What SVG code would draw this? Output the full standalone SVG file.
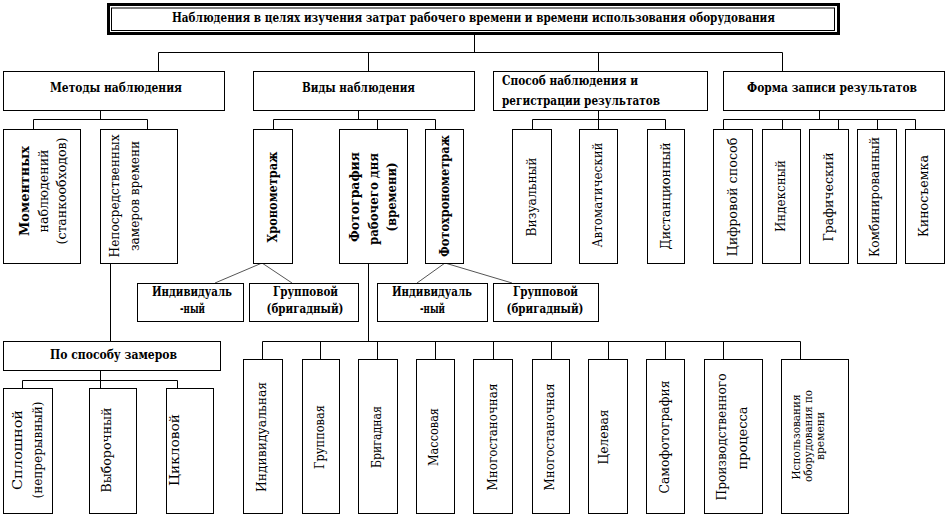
<svg xmlns="http://www.w3.org/2000/svg" width="947" height="517" viewBox="0 0 947 517">
<style>
.b{fill:#fff;stroke:#000;stroke-width:1}
.h{font-family:"DejaVu Serif",serif;font-weight:bold;font-size:12.5px;text-anchor:middle;fill:#000}
.v{font-family:"DejaVu Serif",serif;font-size:12px;text-anchor:middle;fill:#000}
.vb{font-weight:bold}
.c path{stroke:#000;stroke-width:1;fill:none}
.c .d{stroke:#555}
</style>
<rect width="947" height="517" fill="#fff"/>
<g class="c" id="connectors">
<path d="M474.5,33V52.5M158.5,52.5H782.5M158.5,52.5V71M368.5,52.5V71M598.5,52.5V71M782.5,52.5V71"/>
<path d="M100.5,110V119.5M33.5,119.5H147.5M33.5,119.5V129M147.5,119.5V129"/>
<path d="M358.5,110V119.5M273.5,119.5H435.5M273.5,119.5V129M377.5,119.5V129M435.5,119.5V129"/>
<path d="M598.5,110V119.5M532.5,119.5H665.5M532.5,119.5V129M598.5,119.5V129M665.5,119.5V129"/>
<path d="M819.5,110V119.5M723.5,119.5H915.5M723.5,119.5V129M782.5,119.5V129M838.5,119.5V129M877.5,119.5V129M915.5,119.5V129"/>
<path d="M110.5,263V341"/>
<path d="M100.5,370V380.5M22.5,380.5H177.5M22.5,380.5V388M100.5,380.5V388M177.5,380.5V388"/>
<path d="M368.5,263V341.5M262.5,341.5H800.5M262.5,341.5V359M320.5,341.5V359M377.5,341.5V359M435.5,341.5V359M493.5,341.5V359M551.5,341.5V359M608.5,341.5V359M665.5,341.5V359M723.5,341.5V359M800.5,341.5V359"/>
<path class="d" d="M262,263L215,283M262,263L292,283M445,263L417,283M445,263L512,283"/>
</g>
<g id="title">
<rect x="108.5" y="4.5" width="730" height="29" fill="#fff" stroke="#000" stroke-width="3"/>
<rect x="111.5" y="8" width="723" height="22.5" fill="none" stroke="#000" stroke-width="1"/>
<text class="h" x="473.5" y="21.5" textLength="603" lengthAdjust="spacingAndGlyphs">Наблюдения в целях изучения затрат рабочего времени и времени использования оборудования</text>
</g>
<g id="methods"><rect class="b" x="3.5" y="71.5" width="221" height="39"/><text class="h" x="116" y="91.5" textLength="132" lengthAdjust="spacingAndGlyphs">Методы наблюдения</text></g>
<g id="kinds"><rect class="b" x="253.5" y="71.5" width="221" height="39"/><text class="h" x="358.5" y="91.5" textLength="113" lengthAdjust="spacingAndGlyphs">Виды наблюдения</text></g>
<g id="way"><rect class="b" x="493.5" y="71.5" width="214" height="39"/><text class="h" x="502" y="84.5" style="text-anchor:start" textLength="136" lengthAdjust="spacingAndGlyphs">Способ наблюдения и</text><text class="h" x="502" y="104.5" style="text-anchor:start" textLength="158" lengthAdjust="spacingAndGlyphs">регистрации результатов</text></g>
<g id="form"><rect class="b" x="723.5" y="71.5" width="221" height="39"/><text class="h" x="832" y="91.5" textLength="170" lengthAdjust="spacingAndGlyphs">Форма записи результатов</text></g>
<g id="ind1"><rect class="b" x="137.5" y="283.5" width="106" height="38"/><text class="h" x="192" y="296" textLength="80" lengthAdjust="spacingAndGlyphs">Индивидуаль</text><text class="h" x="192.5" y="313" textLength="25" lengthAdjust="spacingAndGlyphs">-ный</text></g>
<g id="grp1"><rect class="b" x="249.5" y="283.5" width="109" height="38"/><text class="h" x="305.5" y="296" textLength="65" lengthAdjust="spacingAndGlyphs">Групповой</text><text class="h" x="305" y="313" textLength="77" lengthAdjust="spacingAndGlyphs">(бригадный)</text></g>
<g id="ind2"><rect class="b" x="377.5" y="283.5" width="110" height="38"/><text class="h" x="432" y="296" textLength="80" lengthAdjust="spacingAndGlyphs">Индивидуаль</text><text class="h" x="432.5" y="313" textLength="25" lengthAdjust="spacingAndGlyphs">-ный</text></g>
<g id="grp2"><rect class="b" x="493.5" y="283.5" width="105" height="38"/><text class="h" x="545.5" y="296" textLength="65" lengthAdjust="spacingAndGlyphs">Групповой</text><text class="h" x="545" y="313" textLength="77" lengthAdjust="spacingAndGlyphs">(бригадный)</text></g>
<g id="bymeasure"><rect class="b" x="3.5" y="341.5" width="217" height="29"/><text class="h" x="113.5" y="358.5" textLength="127" lengthAdjust="spacingAndGlyphs">По способу замеров</text></g>

<g id="moment"><rect class="b" x="3.5" y="129.5" width="77" height="134"/>
<text class="v vb" transform="translate(29,191) rotate(-90)" textLength="90" lengthAdjust="spacingAndGlyphs">Моментных</text>
<text class="v" transform="translate(48,191) rotate(-90)" textLength="83" lengthAdjust="spacingAndGlyphs">наблюдений</text>
<text class="v" transform="translate(66,191) rotate(-90)" textLength="107" lengthAdjust="spacingAndGlyphs">(станкообходов)</text></g>
<g id="direct"><rect class="b" x="100.5" y="129.5" width="77" height="134"/>
<text class="v" transform="translate(119,196) rotate(-90)" textLength="123" lengthAdjust="spacingAndGlyphs">Непосредственных</text>
<text class="v" transform="translate(139,196) rotate(-90)" textLength="110" lengthAdjust="spacingAndGlyphs">замеров времени</text></g>
<g id="chrono"><rect class="b" x="253.5" y="129.5" width="39" height="134"/><text class="v vb" transform="translate(276.5,197) rotate(-90)" textLength="91" lengthAdjust="spacingAndGlyphs">Хронометраж</text></g>
<g id="photo"><rect class="b" x="339.5" y="129.5" width="68" height="134"/>
<text class="v vb" transform="translate(359,197) rotate(-90)" textLength="90" lengthAdjust="spacingAndGlyphs">Фотография</text>
<text class="v vb" transform="translate(378,199) rotate(-90)" textLength="92" lengthAdjust="spacingAndGlyphs">рабочего дня</text>
<text class="v vb" transform="translate(396,197) rotate(-90)" textLength="69" lengthAdjust="spacingAndGlyphs">(времени)</text></g>
<g id="photochrono"><rect class="b" x="425.5" y="129.5" width="38" height="134"/><text class="v vb" transform="translate(448.5,196) rotate(-90)" textLength="122" lengthAdjust="spacingAndGlyphs">Фотохронометраж</text></g>
<g id="visual"><rect class="b" x="512.5" y="129.5" width="39" height="134"/><text class="v" transform="translate(536,197) rotate(-90)" textLength="79" lengthAdjust="spacingAndGlyphs">Визуальный</text></g>
<g id="auto"><rect class="b" x="579.5" y="129.5" width="38" height="134"/><text class="v" transform="translate(602,195) rotate(-90)" textLength="105" lengthAdjust="spacingAndGlyphs">Автоматический</text></g>
<g id="distance"><rect class="b" x="647.5" y="129.5" width="37" height="134"/><text class="v" transform="translate(669.5,196) rotate(-90)" textLength="107" lengthAdjust="spacingAndGlyphs">Дистанционный</text></g>
<g id="digital"><rect class="b" x="713.5" y="129.5" width="39" height="134"/><text class="v" transform="translate(736.5,197) rotate(-90)" textLength="119" lengthAdjust="spacingAndGlyphs">Цифровой способ</text></g>
<g id="index"><rect class="b" x="762.5" y="129.5" width="38" height="134"/><text class="v" transform="translate(784.5,196) rotate(-90)" textLength="72" lengthAdjust="spacingAndGlyphs">Индексный</text></g>
<g id="graphic"><rect class="b" x="809.5" y="129.5" width="39" height="134"/><text class="v" transform="translate(832.5,197) rotate(-90)" textLength="89" lengthAdjust="spacingAndGlyphs">Графический</text></g>
<g id="combined"><rect class="b" x="857.5" y="129.5" width="39" height="134"/><text class="v" transform="translate(878.5,197) rotate(-90)" textLength="120" lengthAdjust="spacingAndGlyphs">Комбинированный</text></g>
<g id="film"><rect class="b" x="905.5" y="129.5" width="39" height="134"/><text class="v" transform="translate(928,196) rotate(-90)" textLength="82" lengthAdjust="spacingAndGlyphs">Киносъемка</text></g>
<g id="solid"><rect class="b" x="3.5" y="388.5" width="49" height="125"/>
<text class="v" transform="translate(22,450) rotate(-90)" textLength="80" lengthAdjust="spacingAndGlyphs">Сплошной</text>
<text class="v" transform="translate(42,450) rotate(-90)" textLength="97" lengthAdjust="spacingAndGlyphs">(непрерывный)</text></g>
<g id="sample"><rect class="b" x="89.5" y="388.5" width="47" height="125"/><text class="v" transform="translate(111,450) rotate(-90)" textLength="85" lengthAdjust="spacingAndGlyphs">Выборочный</text></g>
<g id="cycle"><rect class="b" x="166.5" y="388.5" width="47" height="125"/><text class="v" transform="translate(179,450) rotate(-90)" textLength="72" lengthAdjust="spacingAndGlyphs">Цикловой</text></g>
<g id="individual"><rect class="b" x="243.5" y="359.5" width="39" height="154"/><text class="v" transform="translate(266,437) rotate(-90)" textLength="110" lengthAdjust="spacingAndGlyphs">Индивидуальная</text></g>
<g id="group"><rect class="b" x="302.5" y="359.5" width="37" height="154"/><text class="v" transform="translate(324,437) rotate(-90)" textLength="64" lengthAdjust="spacingAndGlyphs">Групповая</text></g>
<g id="brigade"><rect class="b" x="358.5" y="359.5" width="39" height="154"/><text class="v" transform="translate(381,437) rotate(-90)" textLength="62" lengthAdjust="spacingAndGlyphs">Бригадная</text></g>
<g id="mass"><rect class="b" x="416.5" y="359.5" width="38" height="154"/><text class="v" transform="translate(438,437) rotate(-90)" textLength="58" lengthAdjust="spacingAndGlyphs">Массовая</text></g>
<g id="multi1"><rect class="b" x="473.5" y="359.5" width="39" height="154"/><text class="v" transform="translate(497,437) rotate(-90)" textLength="107" lengthAdjust="spacingAndGlyphs">Многостаночная</text></g>
<g id="multi2"><rect class="b" x="532.5" y="359.5" width="37" height="154"/><text class="v" transform="translate(554,437) rotate(-90)" textLength="107" lengthAdjust="spacingAndGlyphs">Многостаночная</text></g>
<g id="target"><rect class="b" x="588.5" y="359.5" width="39" height="154"/><text class="v" transform="translate(607.5,437) rotate(-90)" textLength="55" lengthAdjust="spacingAndGlyphs">Целевая</text></g>
<g id="selfphoto"><rect class="b" x="646.5" y="359.5" width="38" height="154"/><text class="v" transform="translate(669,437) rotate(-90)" textLength="113" lengthAdjust="spacingAndGlyphs">Самофотография</text></g>
<g id="process"><rect class="b" x="704.5" y="359.5" width="58" height="154"/>
<text class="v" transform="translate(726,437) rotate(-90)" textLength="127" lengthAdjust="spacingAndGlyphs">Производственного</text>
<text class="v" transform="translate(747,438) rotate(-90)" textLength="63" lengthAdjust="spacingAndGlyphs">процесса</text></g>
<g id="equipment"><rect class="b" x="781.5" y="359.5" width="67" height="154"/>
<text class="v" style="font-size:11px" transform="translate(800,437) rotate(-90)" textLength="85" lengthAdjust="spacingAndGlyphs">Использования</text>
<text class="v" style="font-size:11px" transform="translate(812,436) rotate(-90)" textLength="92" lengthAdjust="spacingAndGlyphs">оборудования по</text>
<text class="v" style="font-size:11px" transform="translate(824,436) rotate(-90)" textLength="48" lengthAdjust="spacingAndGlyphs">времени</text></g>
</svg>
